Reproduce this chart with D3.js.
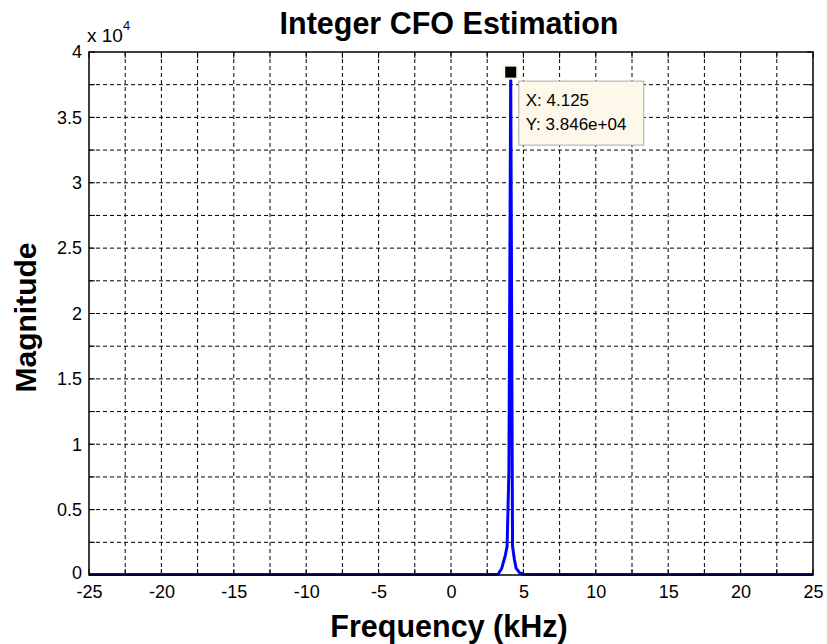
<!DOCTYPE html>
<html><head><meta charset="utf-8">
<script src="https://cdn.jsdelivr.net/npm/d3@7"></script>
<style>body{margin:0;background:#fff;} svg{display:block;font-family:"Liberation Sans",Arial,sans-serif;}</style>
</head><body>
<script>
// Data (frequency in kHz, magnitude)
const freqs = [-25, -20, -15, -10, -5, 0, 2.5, 3.25, 3.5, 3.75, 3.875, 4.0, 4.125, 4.25, 4.375, 4.5, 4.75, 5.0, 7.5, 10, 15, 20, 25];
const mags  = [40, 40, 40, 40, 40, 40, 40, 60, 500, 1500, 2200, 8000, 38460, 2200, 1200, 500, 150, 60, 40, 40, 40, 40, 40];
const xTicks = [-25, -20, -15, -10, -5, 0, 5, 10, 15, 20, 25];
const xTickLabels = ["-25", "-20", "-15", "-10", "-5", "0", "5", "10", "15", "20", "25"];
const yTicks = [0, 5000, 10000, 15000, 20000, 25000, 30000, 35000, 40000];
const yTickLabels = ["0", "0.5", "1", "1.5", "2", "2.5", "3", "3.5", "4"];
const xGrid = d3.range(-25, 25.01, 2.5);
const yGrid = d3.range(0, 40001, 2500);
const peak = {x: 4.125, y: 38460, xLabel: "X: 4.125", yLabel: "Y: 3.846e+04"};

const W = 827, H = 644;
const L = 89, R = 813, T = 52, B = 575;
const svg = d3.select("body").append("svg").attr("width", W).attr("height", H);
const x = d3.scaleLinear().domain([-25, 25]).range([L, R]);
const y = d3.scaleLinear().domain([0, 40000]).range([B, T]);

// grid
const g = svg.append("g");
g.selectAll("line.gx").data(xGrid.filter(v => v > -25 && v < 25)).enter().append("line")
  .attr("x1", d => x(d)).attr("x2", d => x(d)).attr("y1", T).attr("y2", B)
  .attr("stroke", "#000").attr("stroke-width", 1).attr("stroke-dasharray", "4,3");
g.selectAll("line.gy").data(yGrid.filter(v => v > 0 && v < 40000)).enter().append("line")
  .attr("y1", d => y(d)).attr("y2", d => y(d)).attr("x1", L).attr("x2", R)
  .attr("stroke", "#000").attr("stroke-width", 1).attr("stroke-dasharray", "4,3");

// ticks inside on all four sides
const tl = 6;
svg.append("g").selectAll("line").data(xGrid).enter().append("line")
  .attr("x1", d => x(d)).attr("x2", d => x(d)).attr("y1", B).attr("y2", B - tl).attr("stroke", "#000");
svg.append("g").selectAll("line").data(xGrid).enter().append("line")
  .attr("x1", d => x(d)).attr("x2", d => x(d)).attr("y1", T).attr("y2", T + tl).attr("stroke", "#000");
svg.append("g").selectAll("line").data(yGrid).enter().append("line")
  .attr("y1", d => y(d)).attr("y2", d => y(d)).attr("x1", L).attr("x2", L + tl).attr("stroke", "#000");
svg.append("g").selectAll("line").data(yGrid).enter().append("line")
  .attr("y1", d => y(d)).attr("y2", d => y(d)).attr("x1", R).attr("x2", R - tl).attr("stroke", "#000");

// tick labels via axes
const xAxis = svg.append("g").attr("transform", `translate(0,${B})`)
  .call(d3.axisBottom(x).tickValues(xTicks).tickSize(0).tickPadding(10).tickFormat((d, i) => xTickLabels[i]));
xAxis.select(".domain").remove();
xAxis.selectAll("text").attr("font-size", 18).attr("fill", "#000").attr("font-family", "Liberation Sans, Arial, sans-serif");
const yAxis = svg.append("g").attr("transform", `translate(${L},0)`)
  .call(d3.axisLeft(y).tickValues(yTicks).tickSize(0).tickPadding(7).tickFormat((d, i) => yTickLabels[i]));
yAxis.select(".domain").remove();
yAxis.selectAll("text").attr("font-size", 18).attr("fill", "#000").attr("font-family", "Liberation Sans, Arial, sans-serif");
yAxis.selectAll("text").filter((d, i) => i === 0).attr("dy", "0.2em");

// line
const pts = freqs.map((f, i) => [f, mags[i]]);
svg.append("path").datum(pts)
  .attr("d", d3.line().x(d => x(d[0])).y(d => y(d[1])))
  .attr("fill", "none").attr("stroke", "#0000ff").attr("stroke-width", 3).attr("stroke-linejoin", "miter");

// frame
svg.append("rect").attr("x", L).attr("y", T).attr("width", R - L).attr("height", B - T)
  .attr("fill", "none").attr("stroke", "#000").attr("stroke-width", 1.5);

// data tip
const px = x(peak.x), py = y(peak.y);
svg.append("rect").attr("x", px - 7.5).attr("y", py - 7.5).attr("width", 15).attr("height", 15).attr("fill", "#fdf8ea");
svg.append("rect").attr("x", px - 5.5).attr("y", py - 5.5).attr("width", 11).attr("height", 11).attr("fill", "#000");
svg.append("rect").attr("x", px + 8).attr("y", py + 9).attr("width", 125).attr("height", 64)
  .attr("fill", "#fdf8ea").attr("stroke", "#b8b8b8").attr("stroke-width", 1.2);
svg.append("text").attr("x", px + 15).attr("y", py + 34).attr("font-size", 17).text(peak.xLabel);
svg.append("text").attr("x", px + 15).attr("y", py + 58).attr("font-size", 17).text(peak.yLabel);

// exponent
const ex = svg.append("text").attr("x", 87).attr("y", 42).attr("font-size", 19);
ex.append("tspan").text("x 10");
ex.append("tspan").attr("font-size", 13).attr("dy", -12).text("4");

// title & labels
svg.append("text").attr("x", 449).attr("y", 34).attr("text-anchor", "middle")
  .attr("font-size", 30.5).attr("font-weight", "bold").text("Integer CFO Estimation");
svg.append("text").attr("x", 449).attr("y", 637).attr("text-anchor", "middle")
  .attr("font-size", 30.5).attr("font-weight", "bold").text("Frequency (kHz)");
svg.append("text").attr("transform", `translate(36,${(T + B) / 2 + 4}) rotate(-90)`).attr("text-anchor", "middle")
  .attr("font-size", 30).attr("font-weight", "bold").text("Magnitude");
</script>
</body></html>
